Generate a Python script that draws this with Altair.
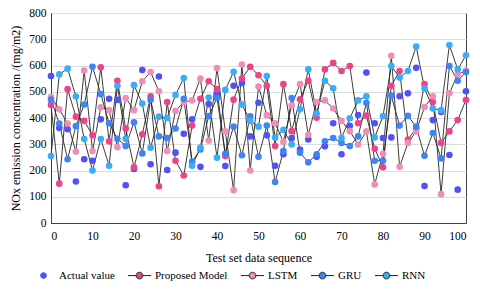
import altair as alt
import pandas as pd

x_seq = list(range(0, 101, 2))

actual = [560, 362, 357, 158, 243, 237, 395, 473, 469, 144, 206, 583, 224, 558, 202, 268, 340,
          395, 214, 453, 492, 217, 523, 533, 330, 458, 334, 218, 262, 324, 280, 318, 252, 292,
          380, 262, 370, 411, 573, 380, 324, 326, 483, 494, 591, 141, 392, 423, 259, 127, 502]
proposed = [450, 150, 510, 405, 389, 334, 593, 311, 542, 360, 212, 338, 483, 140, 461, 237, 181,
            371, 473, 540, 510, 255, 470, 550, 595, 563, 523, 293, 529, 350, 471, 542, 401, 585,
            610, 579, 598, 380, 409, 283, 212, 523, 579, 318, 361, 529, 461, 305, 349, 392, 469]
lstm = [480, 433, 379, 272, 581, 274, 441, 430, 289, 476, 430, 540, 575, 502, 274, 427, 461,
        467, 550, 314, 590, 349, 125, 604, 200, 520, 411, 380, 310, 448, 529, 336, 461, 467,
        436, 389, 350, 299, 349, 147, 264, 637, 214, 305, 349, 442, 483, 110, 494, 566, 580]
gru = [470, 379, 243, 369, 451, 595, 491, 380, 321, 293, 384, 265, 470, 330, 324, 360, 473,
       234, 280, 407, 476, 264, 367, 258, 406, 252, 371, 156, 274, 476, 268, 231, 262, 311,
       324, 305, 293, 330, 458, 237, 237, 485, 371, 408, 367, 256, 343, 246, 598, 542, 575]
rnn = [255, 566, 588, 482, 320, 200, 320, 218, 523, 321, 525, 455, 287, 405, 400, 488, 552,
       218, 287, 478, 249, 507, 576, 451, 389, 367, 560, 326, 355, 299, 433, 585, 417, 542,
       513, 324, 399, 467, 483, 326, 407, 598, 554, 579, 672, 513, 436, 430, 678, 585, 639]

series_names = ["Actual value", "Proposed Model", "LSTM", "GRU", "RNN"]
series_colors = ["#5151F4", "#F0418B", "#F08DB8", "#3D84F5", "#39ADF8"]
x_ticks = list(range(0, 101, 10))
y_ticks = list(range(0, 801, 100))

frames = []
for name, vals in zip(series_names, [actual, proposed, lstm, gru, rnn]):
    frames.append(pd.DataFrame({"x": x_seq, "value": vals, "series": name}))
df = pd.concat(frames, ignore_index=True)

dot_path = "M0.29,0 A0.29,0.29 0 1 1 -0.29,0 A0.29,0.29 0 1 1 0.29,0 Z"
line_dot_path = ("M-1,0 L-0.29,0 M0.29,0 L1,0 " + dot_path)

legend = alt.Legend(
    title=None, orient="none", direction="horizontal", columns=5,
    legendX=-20, legendY=250, symbolSize=530, labelOffset=3, columnPadding=10,
    labelFont="Liberation Serif", labelFontSize=11, labelColor="#000",
    symbolStrokeWidth=1,
)

color_scale = alt.Scale(domain=series_names, range=series_colors)
shape_scale = alt.Scale(domain=series_names, range=[dot_path] + [line_dot_path] * 4)
stroke_scale = alt.Scale(domain=series_names,
                         range=["rgba(0,0,0,0)", "#222", "#222", "#222", "#222"])

xenc = alt.X("x:Q", scale=alt.Scale(domain=[0, 100], nice=False),
             axis=alt.Axis(values=x_ticks, title="Test set data sequence", grid=False,
                           ticks=False, labelPadding=7, titlePadding=11))
yenc = alt.Y("value:Q", scale=alt.Scale(domain=[0, 800], nice=False),
             axis=alt.Axis(values=y_ticks, title="NOx emission concentration /(mg/m2)",
                           grid=True, ticks=False, labelPadding=5, titlePadding=6))

base = alt.Chart(df)

lines = base.transform_filter(alt.datum.series != "Actual value").mark_line(
    color="#262626", strokeWidth=0.9
).encode(x=xenc, y=yenc, detail="series:N")

points = base.mark_point(filled=True, shape="circle", size=44, opacity=1).encode(
    x=xenc, y=yenc,
    color=alt.Color("series:N", scale=color_scale, legend=legend),
)

legend_layer = base.transform_filter("false").mark_point(filled=True, opacity=1).encode(
    x=xenc, y=yenc,
    color=alt.Color("series:N", scale=color_scale, legend=legend),
    shape=alt.Shape("series:N", scale=shape_scale, legend=legend),
    stroke=alt.Stroke("series:N", scale=stroke_scale, legend=legend),
)

chart = alt.layer(lines, points, legend_layer).properties(
    width=415, height=210,
    autosize=alt.AutoSizeParams(type="none"),
    padding={"left": 43, "top": 5, "right": 6, "bottom": 62},
).configure_view(stroke="#404040", strokeWidth=1).configure_axis(
    labelFont="Liberation Serif", labelFontSize=11.5, labelColor="#000",
    titleFont="Liberation Serif", titleFontSize=12, titleFontWeight="normal",
    titleColor="#000", domainColor="#404040", gridColor="#dcdcdc", gridWidth=1,
)

chart.save("out.html", embed_options={"renderer": "svg", "actions": False})
